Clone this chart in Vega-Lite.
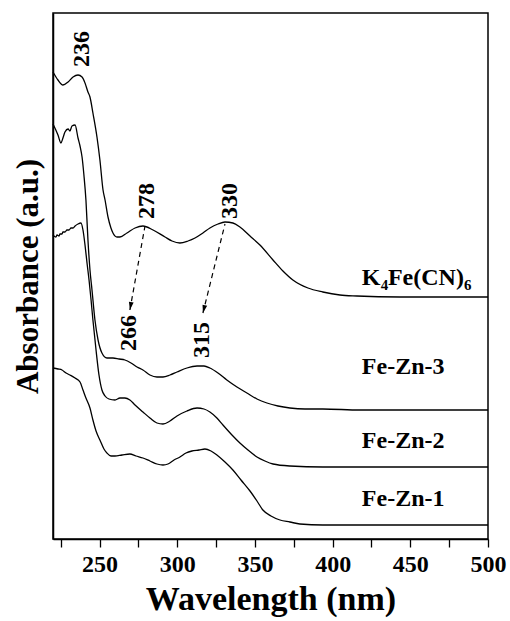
{
  "$schema": "https://vega.github.io/schema/vega-lite/v6.json",
  "width": 435,
  "height": 526,
  "autosize": "none",
  "padding": {"left": 53, "top": 13, "right": 22, "bottom": 82},
  "config": {
    "font": "Liberation Serif",
    "view": {"stroke": "black", "strokeWidth": 1.5},
    "axis": {"grid": false, "domainColor": "black", "domainWidth": 1.5, "tickColor": "black", "labelColor": "black", "titleColor": "black"}
  },
  "datasets": {
    "spectra": [
      {"series": "K4Fe(CN)6", "wl": 220.0, "abs": 4.67},
      {"series": "K4Fe(CN)6", "wl": 223.2, "abs": 4.59},
      {"series": "K4Fe(CN)6", "wl": 226.4, "abs": 4.54},
      {"series": "K4Fe(CN)6", "wl": 229.7, "abs": 4.57},
      {"series": "K4Fe(CN)6", "wl": 232.9, "abs": 4.62},
      {"series": "K4Fe(CN)6", "wl": 236.1, "abs": 4.64},
      {"series": "K4Fe(CN)6", "wl": 238.7, "abs": 4.62},
      {"series": "K4Fe(CN)6", "wl": 240.6, "abs": 4.56},
      {"series": "K4Fe(CN)6", "wl": 242.5, "abs": 4.47},
      {"series": "K4Fe(CN)6", "wl": 243.8, "abs": 4.42},
      {"series": "K4Fe(CN)6", "wl": 245.7, "abs": 4.26},
      {"series": "K4Fe(CN)6", "wl": 248.3, "abs": 4.02},
      {"series": "K4Fe(CN)6", "wl": 250.2, "abs": 3.79},
      {"series": "K4Fe(CN)6", "wl": 252.2, "abs": 3.49},
      {"series": "K4Fe(CN)6", "wl": 253.5, "abs": 3.39},
      {"series": "K4Fe(CN)6", "wl": 255.4, "abs": 3.22},
      {"series": "K4Fe(CN)6", "wl": 257.3, "abs": 3.11},
      {"series": "K4Fe(CN)6", "wl": 258.6, "abs": 3.06},
      {"series": "K4Fe(CN)6", "wl": 261.2, "abs": 3.02},
      {"series": "K4Fe(CN)6", "wl": 263.1, "abs": 3.02},
      {"series": "K4Fe(CN)6", "wl": 267.6, "abs": 3.06},
      {"series": "K4Fe(CN)6", "wl": 272.8, "abs": 3.11},
      {"series": "K4Fe(CN)6", "wl": 277.9, "abs": 3.13},
      {"series": "K4Fe(CN)6", "wl": 284.4, "abs": 3.09},
      {"series": "K4Fe(CN)6", "wl": 292.1, "abs": 3.02},
      {"series": "K4Fe(CN)6", "wl": 296.6, "abs": 2.98},
      {"series": "K4Fe(CN)6", "wl": 301.7, "abs": 2.96},
      {"series": "K4Fe(CN)6", "wl": 306.9, "abs": 2.98},
      {"series": "K4Fe(CN)6", "wl": 311.4, "abs": 3.01},
      {"series": "K4Fe(CN)6", "wl": 316.5, "abs": 3.06},
      {"series": "K4Fe(CN)6", "wl": 321.0, "abs": 3.11},
      {"series": "K4Fe(CN)6", "wl": 326.2, "abs": 3.15},
      {"series": "K4Fe(CN)6", "wl": 330.7, "abs": 3.17},
      {"series": "K4Fe(CN)6", "wl": 335.8, "abs": 3.16},
      {"series": "K4Fe(CN)6", "wl": 340.3, "abs": 3.12},
      {"series": "K4Fe(CN)6", "wl": 346.8, "abs": 3.03},
      {"series": "K4Fe(CN)6", "wl": 353.2, "abs": 2.94},
      {"series": "K4Fe(CN)6", "wl": 361.6, "abs": 2.79},
      {"series": "K4Fe(CN)6", "wl": 368.0, "abs": 2.68},
      {"series": "K4Fe(CN)6", "wl": 374.4, "abs": 2.59},
      {"series": "K4Fe(CN)6", "wl": 384.1, "abs": 2.51},
      {"series": "K4Fe(CN)6", "wl": 393.7, "abs": 2.47},
      {"series": "K4Fe(CN)6", "wl": 404.7, "abs": 2.44},
      {"series": "K4Fe(CN)6", "wl": 415.6, "abs": 2.43},
      {"series": "K4Fe(CN)6", "wl": 443.3, "abs": 2.42},
      {"series": "K4Fe(CN)6", "wl": 500.0, "abs": 2.42},

      {"series": "Fe-Zn-3", "wl": 220.0, "abs": 4.15},
      {"series": "Fe-Zn-3", "wl": 223.2, "abs": 4.04},
      {"series": "Fe-Zn-3", "wl": 225.1, "abs": 3.96},
      {"series": "Fe-Zn-3", "wl": 226.4, "abs": 4.01},
      {"series": "Fe-Zn-3", "wl": 227.7, "abs": 4.07},
      {"series": "Fe-Zn-3", "wl": 229.7, "abs": 4.10},
      {"series": "Fe-Zn-3", "wl": 230.9, "abs": 4.08},
      {"series": "Fe-Zn-3", "wl": 232.2, "abs": 4.13},
      {"series": "Fe-Zn-3", "wl": 234.2, "abs": 4.14},
      {"series": "Fe-Zn-3", "wl": 236.1, "abs": 4.01},
      {"series": "Fe-Zn-3", "wl": 237.4, "abs": 3.93},
      {"series": "Fe-Zn-3", "wl": 238.7, "abs": 3.82},
      {"series": "Fe-Zn-3", "wl": 239.9, "abs": 3.64},
      {"series": "Fe-Zn-3", "wl": 241.2, "abs": 3.39},
      {"series": "Fe-Zn-3", "wl": 242.5, "abs": 2.99},
      {"series": "Fe-Zn-3", "wl": 243.8, "abs": 2.69},
      {"series": "Fe-Zn-3", "wl": 245.1, "abs": 2.49},
      {"series": "Fe-Zn-3", "wl": 247.0, "abs": 2.19},
      {"series": "Fe-Zn-3", "wl": 249.0, "abs": 1.99},
      {"series": "Fe-Zn-3", "wl": 251.5, "abs": 1.86},
      {"series": "Fe-Zn-3", "wl": 254.7, "abs": 1.81},
      {"series": "Fe-Zn-3", "wl": 258.6, "abs": 1.81},
      {"series": "Fe-Zn-3", "wl": 262.5, "abs": 1.80},
      {"series": "Fe-Zn-3", "wl": 266.3, "abs": 1.79},
      {"series": "Fe-Zn-3", "wl": 270.2, "abs": 1.76},
      {"series": "Fe-Zn-3", "wl": 274.1, "abs": 1.72},
      {"series": "Fe-Zn-3", "wl": 277.9, "abs": 1.69},
      {"series": "Fe-Zn-3", "wl": 282.4, "abs": 1.64},
      {"series": "Fe-Zn-3", "wl": 286.9, "abs": 1.62},
      {"series": "Fe-Zn-3", "wl": 290.8, "abs": 1.62},
      {"series": "Fe-Zn-3", "wl": 295.3, "abs": 1.64},
      {"series": "Fe-Zn-3", "wl": 299.8, "abs": 1.67},
      {"series": "Fe-Zn-3", "wl": 306.2, "abs": 1.71},
      {"series": "Fe-Zn-3", "wl": 312.7, "abs": 1.73},
      {"series": "Fe-Zn-3", "wl": 317.2, "abs": 1.73},
      {"series": "Fe-Zn-3", "wl": 321.0, "abs": 1.71},
      {"series": "Fe-Zn-3", "wl": 326.2, "abs": 1.66},
      {"series": "Fe-Zn-3", "wl": 331.9, "abs": 1.59},
      {"series": "Fe-Zn-3", "wl": 338.4, "abs": 1.52},
      {"series": "Fe-Zn-3", "wl": 344.8, "abs": 1.46},
      {"series": "Fe-Zn-3", "wl": 351.3, "abs": 1.40},
      {"series": "Fe-Zn-3", "wl": 357.7, "abs": 1.36},
      {"series": "Fe-Zn-3", "wl": 364.8, "abs": 1.33},
      {"series": "Fe-Zn-3", "wl": 372.5, "abs": 1.31},
      {"series": "Fe-Zn-3", "wl": 382.2, "abs": 1.30},
      {"series": "Fe-Zn-3", "wl": 393.7, "abs": 1.30},
      {"series": "Fe-Zn-3", "wl": 417.6, "abs": 1.29},
      {"series": "Fe-Zn-3", "wl": 443.3, "abs": 1.29},
      {"series": "Fe-Zn-3", "wl": 500.0, "abs": 1.29},

      {"series": "Fe-Zn-2", "wl": 220.0, "abs": 3.04},
      {"series": "Fe-Zn-2", "wl": 220.6, "abs": 3.03},
      {"series": "Fe-Zn-2", "wl": 221.9, "abs": 3.02},
      {"series": "Fe-Zn-2", "wl": 222.6, "abs": 3.04},
      {"series": "Fe-Zn-2", "wl": 223.9, "abs": 3.03},
      {"series": "Fe-Zn-2", "wl": 224.5, "abs": 3.05},
      {"series": "Fe-Zn-2", "wl": 225.8, "abs": 3.05},
      {"series": "Fe-Zn-2", "wl": 226.4, "abs": 3.07},
      {"series": "Fe-Zn-2", "wl": 227.7, "abs": 3.07},
      {"series": "Fe-Zn-2", "wl": 229.0, "abs": 3.09},
      {"series": "Fe-Zn-2", "wl": 230.3, "abs": 3.09},
      {"series": "Fe-Zn-2", "wl": 231.6, "abs": 3.11},
      {"series": "Fe-Zn-2", "wl": 232.9, "abs": 3.11},
      {"series": "Fe-Zn-2", "wl": 234.2, "abs": 3.13},
      {"series": "Fe-Zn-2", "wl": 236.1, "abs": 3.15},
      {"series": "Fe-Zn-2", "wl": 238.0, "abs": 3.16},
      {"series": "Fe-Zn-2", "wl": 239.3, "abs": 3.09},
      {"series": "Fe-Zn-2", "wl": 240.6, "abs": 2.94},
      {"series": "Fe-Zn-2", "wl": 241.9, "abs": 2.76},
      {"series": "Fe-Zn-2", "wl": 243.2, "abs": 2.59},
      {"series": "Fe-Zn-2", "wl": 244.5, "abs": 2.39},
      {"series": "Fe-Zn-2", "wl": 245.7, "abs": 2.19},
      {"series": "Fe-Zn-2", "wl": 247.7, "abs": 1.89},
      {"series": "Fe-Zn-2", "wl": 249.6, "abs": 1.64},
      {"series": "Fe-Zn-2", "wl": 251.5, "abs": 1.49},
      {"series": "Fe-Zn-2", "wl": 253.5, "abs": 1.43},
      {"series": "Fe-Zn-2", "wl": 256.0, "abs": 1.40},
      {"series": "Fe-Zn-2", "wl": 259.9, "abs": 1.39},
      {"series": "Fe-Zn-2", "wl": 263.1, "abs": 1.41},
      {"series": "Fe-Zn-2", "wl": 266.3, "abs": 1.41},
      {"series": "Fe-Zn-2", "wl": 269.5, "abs": 1.39},
      {"series": "Fe-Zn-2", "wl": 272.8, "abs": 1.34},
      {"series": "Fe-Zn-2", "wl": 277.9, "abs": 1.27},
      {"series": "Fe-Zn-2", "wl": 282.4, "abs": 1.21},
      {"series": "Fe-Zn-2", "wl": 286.9, "abs": 1.16},
      {"series": "Fe-Zn-2", "wl": 290.8, "abs": 1.15},
      {"series": "Fe-Zn-2", "wl": 295.3, "abs": 1.18},
      {"series": "Fe-Zn-2", "wl": 299.8, "abs": 1.23},
      {"series": "Fe-Zn-2", "wl": 306.2, "abs": 1.28},
      {"series": "Fe-Zn-2", "wl": 312.7, "abs": 1.31},
      {"series": "Fe-Zn-2", "wl": 317.2, "abs": 1.30},
      {"series": "Fe-Zn-2", "wl": 321.0, "abs": 1.27},
      {"series": "Fe-Zn-2", "wl": 325.5, "abs": 1.21},
      {"series": "Fe-Zn-2", "wl": 329.4, "abs": 1.14},
      {"series": "Fe-Zn-2", "wl": 335.2, "abs": 1.04},
      {"series": "Fe-Zn-2", "wl": 340.3, "abs": 0.96},
      {"series": "Fe-Zn-2", "wl": 345.5, "abs": 0.89},
      {"series": "Fe-Zn-2", "wl": 351.3, "abs": 0.82},
      {"series": "Fe-Zn-2", "wl": 356.4, "abs": 0.78},
      {"series": "Fe-Zn-2", "wl": 361.6, "abs": 0.75},
      {"series": "Fe-Zn-2", "wl": 372.5, "abs": 0.73},
      {"series": "Fe-Zn-2", "wl": 393.7, "abs": 0.72},
      {"series": "Fe-Zn-2", "wl": 436.9, "abs": 0.72},
      {"series": "Fe-Zn-2", "wl": 500.0, "abs": 0.72},

      {"series": "Fe-Zn-1", "wl": 220.0, "abs": 1.71},
      {"series": "Fe-Zn-1", "wl": 223.2, "abs": 1.70},
      {"series": "Fe-Zn-1", "wl": 225.8, "abs": 1.69},
      {"series": "Fe-Zn-1", "wl": 228.4, "abs": 1.66},
      {"series": "Fe-Zn-1", "wl": 230.9, "abs": 1.64},
      {"series": "Fe-Zn-1", "wl": 234.2, "abs": 1.61},
      {"series": "Fe-Zn-1", "wl": 237.4, "abs": 1.57},
      {"series": "Fe-Zn-1", "wl": 239.3, "abs": 1.49},
      {"series": "Fe-Zn-1", "wl": 241.2, "abs": 1.41},
      {"series": "Fe-Zn-1", "wl": 243.8, "abs": 1.31},
      {"series": "Fe-Zn-1", "wl": 245.7, "abs": 1.19},
      {"series": "Fe-Zn-1", "wl": 247.7, "abs": 1.08},
      {"series": "Fe-Zn-1", "wl": 250.2, "abs": 0.99},
      {"series": "Fe-Zn-1", "wl": 252.8, "abs": 0.90},
      {"series": "Fe-Zn-1", "wl": 254.7, "abs": 0.86},
      {"series": "Fe-Zn-1", "wl": 257.3, "abs": 0.83},
      {"series": "Fe-Zn-1", "wl": 259.9, "abs": 0.83},
      {"series": "Fe-Zn-1", "wl": 264.4, "abs": 0.84},
      {"series": "Fe-Zn-1", "wl": 269.5, "abs": 0.85},
      {"series": "Fe-Zn-1", "wl": 273.4, "abs": 0.83},
      {"series": "Fe-Zn-1", "wl": 277.9, "abs": 0.81},
      {"series": "Fe-Zn-1", "wl": 282.4, "abs": 0.78},
      {"series": "Fe-Zn-1", "wl": 286.9, "abs": 0.75},
      {"series": "Fe-Zn-1", "wl": 290.8, "abs": 0.74},
      {"series": "Fe-Zn-1", "wl": 294.0, "abs": 0.75},
      {"series": "Fe-Zn-1", "wl": 297.9, "abs": 0.79},
      {"series": "Fe-Zn-1", "wl": 301.7, "abs": 0.82},
      {"series": "Fe-Zn-1", "wl": 305.6, "abs": 0.86},
      {"series": "Fe-Zn-1", "wl": 309.4, "abs": 0.88},
      {"series": "Fe-Zn-1", "wl": 314.0, "abs": 0.89},
      {"series": "Fe-Zn-1", "wl": 317.8, "abs": 0.90},
      {"series": "Fe-Zn-1", "wl": 321.7, "abs": 0.88},
      {"series": "Fe-Zn-1", "wl": 325.5, "abs": 0.84},
      {"series": "Fe-Zn-1", "wl": 330.7, "abs": 0.77},
      {"series": "Fe-Zn-1", "wl": 335.8, "abs": 0.69},
      {"series": "Fe-Zn-1", "wl": 341.0, "abs": 0.59},
      {"series": "Fe-Zn-1", "wl": 346.8, "abs": 0.48},
      {"series": "Fe-Zn-1", "wl": 351.3, "abs": 0.38},
      {"series": "Fe-Zn-1", "wl": 355.1, "abs": 0.29},
      {"series": "Fe-Zn-1", "wl": 360.3, "abs": 0.23},
      {"series": "Fe-Zn-1", "wl": 366.1, "abs": 0.19},
      {"series": "Fe-Zn-1", "wl": 372.5, "abs": 0.17},
      {"series": "Fe-Zn-1", "wl": 378.9, "abs": 0.15},
      {"series": "Fe-Zn-1", "wl": 393.7, "abs": 0.14},
      {"series": "Fe-Zn-1", "wl": 436.9, "abs": 0.14},
      {"series": "Fe-Zn-1", "wl": 500.0, "abs": 0.14}
    ],
    "peaks": [
      {"label": "236", "wl": 238.7, "abs": 4.90},
      {"label": "278", "wl": 280.5, "abs": 3.38},
      {"label": "330", "wl": 334.2, "abs": 3.38},
      {"label": "266", "wl": 268.6, "abs": 2.06},
      {"label": "315", "wl": 316.2, "abs": 1.99}
    ],
    "names": [
      {"label": "K", "wl": 418.8, "abs": 2.54},
      {"label": "Fe(CN)", "wl": 435.6, "abs": 2.54},
      {"label": "Fe-Zn-3", "wl": 418.8, "abs": 1.65},
      {"label": "Fe-Zn-2", "wl": 418.8, "abs": 0.91},
      {"label": "Fe-Zn-1", "wl": 418.8, "abs": 0.33}
    ],
    "subs": [
      {"label": "4", "wl": 430.9, "abs": 2.49},
      {"label": "6", "wl": 484.5, "abs": 2.49}
    ],
    "arrows": [
      {"id": "a", "wl": 279.2, "abs": 3.13, "tip": false},
      {"id": "a", "wl": 269.5, "abs": 2.29, "tip": true},
      {"id": "b", "wl": 330.7, "abs": 3.15, "tip": false},
      {"id": "b", "wl": 316.5, "abs": 2.26, "tip": true}
    ]
  },
  "encoding": {
    "x": {"field": "wl", "type": "quantitative", "scale": {"domain": [220, 500], "nice": false},
      "axis": {"title": "Wavelength (nm)", "values": [225, 250, 275, 300, 325, 350, 375, 400, 425, 450, 475, 500],
        "labelExpr": "datum.value % 50 == 0 ? datum.label : ''", "labelFontSize": 24, "labelFontWeight": "bold",
        "tickSize": 8, "tickWidth": 1.3, "labelPadding": 5, "labelFlush": false,
        "titleFontSize": 34, "titleFontWeight": "bold", "titlePadding": 6}},
    "y": {"field": "abs", "type": "quantitative", "scale": {"domain": [0, 5.26], "nice": false, "zero": false},
      "axis": {"title": "Absorbance (a.u.)", "ticks": false, "labels": false, "titleFontSize": 31, "titleFontWeight": "bold", "titlePadding": 9}}
  },
  "layer": [
    {
      "data": {"name": "spectra"},
      "mark": {"type": "line", "color": "black", "strokeWidth": 1.3, "interpolate": "monotone"},
      "encoding": {"detail": {"field": "series"}}
    },
    {
      "data": {"name": "arrows"},
      "mark": {"type": "line", "color": "black", "strokeWidth": 1.2, "strokeDash": [5, 4]},
      "encoding": {"detail": {"field": "id"}}
    },
    {
      "data": {"name": "arrows"},
      "transform": [{"filter": "datum.tip && datum.id == 'a'"}],
      "mark": {"type": "point", "shape": "M0,0L-0.3,-1L0.3,-1Z", "filled": true, "color": "black", "size": 256, "angle": 10, "opacity": 1},
      "encoding": {}
    },
    {
      "data": {"name": "arrows"},
      "transform": [{"filter": "datum.tip && datum.id == 'b'"}],
      "mark": {"type": "point", "shape": "M0,0L-0.3,-1L0.3,-1Z", "filled": true, "color": "black", "size": 256, "angle": 14, "opacity": 1},
      "encoding": {}
    },
    {
      "data": {"name": "peaks"},
      "mark": {"type": "text", "angle": 270, "fontSize": 24, "fontWeight": "bold", "align": "center", "baseline": "middle", "color": "black"},
      "encoding": {"text": {"field": "label"}}
    },
    {
      "data": {"name": "names"},
      "mark": {"type": "text", "fontSize": 24, "fontWeight": "bold", "align": "left", "baseline": "alphabetic", "color": "black"},
      "encoding": {"text": {"field": "label"}}
    },
    {
      "data": {"name": "subs"},
      "mark": {"type": "text", "fontSize": 15, "fontWeight": "bold", "align": "left", "baseline": "alphabetic", "color": "black"},
      "encoding": {"text": {"field": "label"}}
    }
  ]
}
